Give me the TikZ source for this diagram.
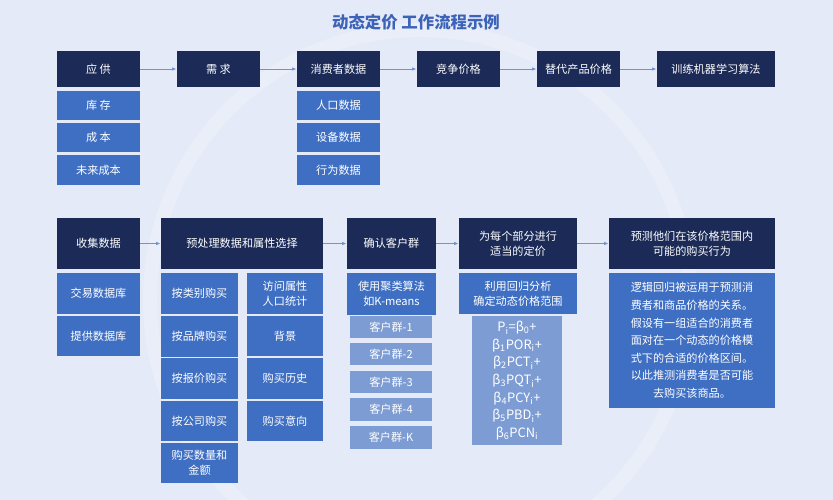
\documentclass[tikz,border=0pt]{standalone}
\usepackage{fontspec}
\setmainfont{Noto Sans CJK SC}
\usetikzlibrary{positioning,fit,arrows.meta}
\definecolor{bg}{HTML}{E5EAF8}
\definecolor{navy}{HTML}{1B2A57}
\definecolor{midblue}{HTML}{3F6FC3}
\definecolor{lightblue}{HTML}{7C9CD3}
\definecolor{titleblue}{HTML}{3D63B8}
\definecolor{arrowc}{HTML}{7393D0}
\newcommand{\cellbox}[6][]{%
\node[#2, fit={#4 #5}] (#3) {};
\node[celltext,#1] at (#3.center) {#6};
}
\tikzset{%
  cell/.style={inner sep=0pt},
  celltext/.style={inner sep=0pt, align=center, text=white,
    font=\fontsize{9.5}{12.5}\selectfont},
  hdr/.style={cell, fill=navy},
  sub/.style={cell, fill=midblue},
  lite/.style={cell, fill=lightblue},
  flow/.style={-{Latex[length=4pt,width=3pt]}, arrowc, thick}
}
\begin{document}
\begin{tikzpicture}[x=0.03cm,y=-0.03cm]
\fill[bg] (0,0) rectangle (833,500);
\useasboundingbox (0,0) rectangle (833,500);
% decorative arc
\draw[white, opacity=0.2, line width=12pt] (420,300) circle [radius=270];
\node[font=\fontsize{14}{16}\selectfont\bfseries, text=titleblue] (title) at (416,22) {动态定价 工作流程示例};

% top row
\cellbox{hdr}{supply}{(57,51)}{(140,87)}{应 供}
\cellbox{hdr}{demand}{(177,51)}{(260,87)}{需 求}
\cellbox{hdr}{consumer}{(297,51)}{(380,87)}{消费者数据}
\cellbox{hdr}{compete}{(417,51)}{(500,87)}{竞争价格}
\cellbox{hdr}{subst}{(537,51)}{(620,87)}{替代产品价格}
\cellbox{hdr}{train}{(657,51)}{(775,87)}{训练机器学习算法}
\cellbox{sub}{stock}{(57,91)}{(140,120)}{库 存}
\cellbox{sub}{cost}{(57,123)}{(140,152)}{成 本}
\cellbox{sub}{future}{(57,155)}{(140,185)}{未来成本}
\cellbox{sub}{pop}{(297,91)}{(380,120)}{人口数据}
\cellbox{sub}{device}{(297,123)}{(380,152)}{设备数据}
\cellbox{sub}{behave}{(297,155)}{(380,185)}{行为数据}
\draw[flow] (supply) -- (demand);
\draw[flow] (demand) -- (consumer);
\draw[flow] (consumer) -- (compete);
\draw[flow] (compete) -- (subst);
\draw[flow] (subst) -- (train);

% bottom row
\cellbox{hdr}{collect}{(57,218)}{(140,269)}{收集数据}
\cellbox{hdr}{prep}{(161,218)}{(323,269)}{预处理数据和属性选择}
\cellbox{hdr}{segment}{(347,218)}{(436,269)}{确认客户群}
\cellbox{hdr}{price}{(459,218)}{(577,269)}{为每个部分进行\\适当的定价}
\cellbox{hdr}{predict}{(609,218)}{(775,269)}{预测他们在该价格范围内\\可能的购买行为}
\draw[flow] (collect) -- (prep);
\draw[flow] (prep) -- (segment);
\draw[flow] (segment) -- (price);
\draw[flow] (price) -- (predict);

\cellbox{sub}{trade}{(57,273)}{(140,314)}{交易数据库}
\cellbox{sub}{offer}{(57,316)}{(140,356)}{提供数据库}

\cellbox{sub}{bycat}{(161,273)}{(238,314)}{按类别购买}
\cellbox{sub}{bybrand}{(161,316)}{(238,357)}{按品牌购买}
\cellbox{sub}{byquote}{(161,358)}{(238,399)}{按报价购买}
\cellbox{sub}{bycorp}{(161,401)}{(238,441)}{按公司购买}
\cellbox{sub}{amount}{(161,443)}{(238,483)}{购买数量和\\金额}
\cellbox{sub}{visit}{(247,273)}{(323,314)}{访问属性\\人口统计}
\cellbox{sub}{backg}{(247,316)}{(323,356)}{背景}
\cellbox{sub}{history}{(247,358)}{(323,399)}{购买历史}
\cellbox{sub}{intent}{(247,401)}{(323,441)}{购买意向}

\cellbox{sub}{kmeans}{(347,273)}{(436,315)}{使用聚类算法\\如K-means}
\cellbox{lite}{g1}{(350,316)}{(432,338)}{客户群-1}
\cellbox{lite}{g2}{(350,343)}{(432,365)}{客户群-2}
\cellbox{lite}{g3}{(350,371)}{(432,393)}{客户群-3}
\cellbox{lite}{g4}{(350,398)}{(432,421)}{客户群-4}
\cellbox{lite}{gk}{(350,426)}{(432,449)}{客户群-K}

\cellbox{sub}{regress}{(459,273)}{(577,314)}{利用回归分析\\确定动态价格范围}
\cellbox[font=\fontsize{11}{15}\selectfont]{lite}{formula}{(472,316)}{(562,445)}{%
  P\textsubscript{i}=β\textsubscript{0}+\\β\textsubscript{1}POR\textsubscript{i}+\\β\textsubscript{2}PCT\textsubscript{i}+\\β\textsubscript{3}PQT\textsubscript{i}+\\β\textsubscript{4}PCY\textsubscript{i}+\\β\textsubscript{5}PBD\textsubscript{i}+\\β\textsubscript{6}PCN\textsubscript{i}}

\cellbox[font=\fontsize{9.5}{15}\selectfont]{sub}{logit}{(609,273)}{(775,408)}{%
  逻辑回归被运用于预测消\\费者和商品价格的关系。\\假设有一组适合的消费者\\面对在一个动态的价格模\\式下的合适的价格区间。\\以此推测消费者是否可能\\去购买该商品。}
\end{tikzpicture}
\end{document}
